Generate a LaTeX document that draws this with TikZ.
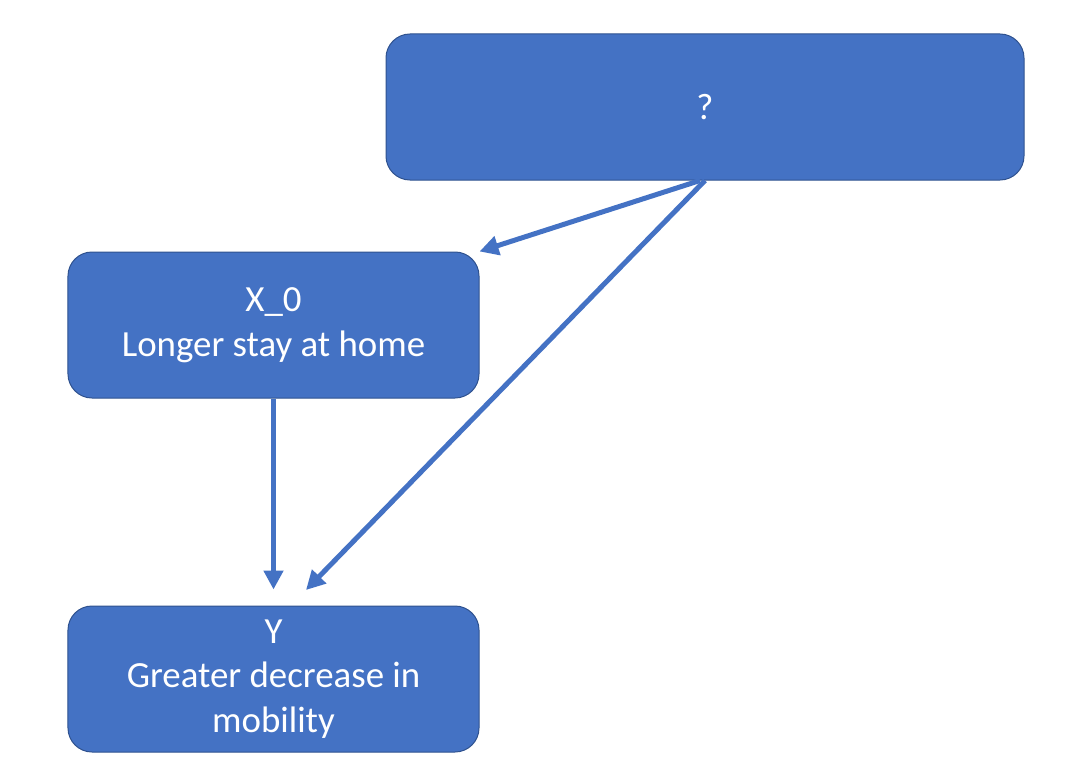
\documentclass[tikz,border=0pt]{standalone}
\usepackage{fontspec}
\setmainfont{Carlito}
\usetikzlibrary{arrows.meta,positioning}
\definecolor{boxblue}{HTML}{4472C4}
\definecolor{edgeblue}{HTML}{2F528F}

\begin{document}
\begin{tikzpicture}[x=1bp,y=-1bp,>={Triangle[length=19bp,width=19bp]},
    varbox/.style={draw=edgeblue,line width=1bp,fill=boxblue,rounded corners=24bp,
      text=white,align=center,minimum height=146bp,
      font=\fontsize{37}{45}\selectfont},
    link/.style={->,draw=boxblue,line width=5bp}]
    \useasboundingbox (0,0) rectangle (1086,780);
    % Variables
    \node[varbox,minimum width=638bp] (u) at (705,107) {?};
    \node[varbox,minimum width=411bp] (x0) at (273.5,325) {X\_0\\Longer stay at home};
    \node[varbox,minimum width=411bp] (y) at (273.5,679) {Y\\Greater decrease in\\mobility};
    \coordinate (yin) at (306,590);
    % Causal links
    \draw[link] ([xshift=-5bp]u.south) -- (x0.north east);
    \draw[link] (u.south) -- (yin);
    \draw[link,shorten >=16bp] (x0.south) -- (y.north);
\end{tikzpicture}
\end{document}
